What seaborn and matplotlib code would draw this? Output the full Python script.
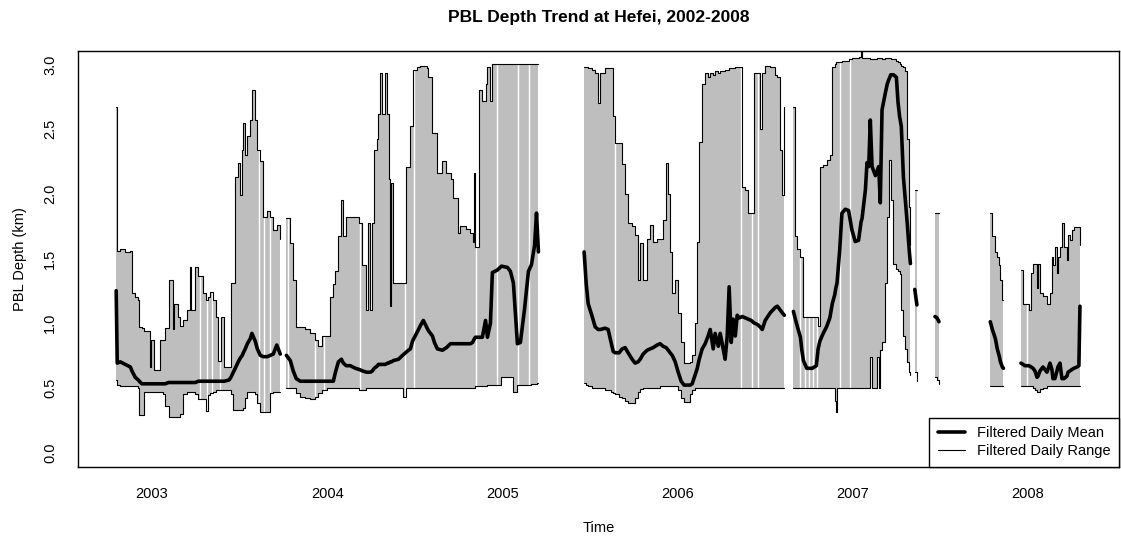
import numpy as np
import pandas as pd
import matplotlib
matplotlib.use("Agg")
import matplotlib.pyplot as plt
from matplotlib.lines import Line2D
import seaborn as sns

nan = np.nan

# ---------------- data (decimal year; NaN rows separate data segments) ----------------
t = [
    # 2002.8 - 2005.2
    2002.795, 2002.801, 2002.818, 2002.847, 2002.876, 2002.885, 2002.904, 2002.921, 2002.927, 2002.942,
    2002.952, 2002.972, 2002.986, 2002.995, 2003.009, 2003.047, 2003.064, 2003.075, 2003.094, 2003.113,
    2003.119, 2003.127, 2003.150, 2003.161, 2003.178, 2003.201, 2003.214, 2003.225, 2003.247, 2003.264,
    2003.292, 2003.310, 2003.318, 2003.332, 2003.350, 2003.367, 2003.378, 2003.395, 2003.412, 2003.440,
    2003.450, 2003.464, 2003.475, 2003.492, 2003.504, 2003.515, 2003.521, 2003.532, 2003.544, 2003.561,
    2003.570, 2003.589, 2003.601, 2003.618, 2003.635, 2003.658, 2003.675, 2003.692, 2003.712, 2003.732,
    2003.734,
    2003.767, 2003.789, 2003.806, 2003.823, 2003.846, 2003.875, 2003.903, 2003.932, 2003.949, 2003.972,
    2004.000, 2004.018, 2004.035, 2004.047, 2004.064, 2004.081, 2004.092, 2004.109, 2004.132, 2004.161,
    2004.184, 2004.201, 2004.224, 2004.235, 2004.247, 2004.258, 2004.269, 2004.287, 2004.292, 2004.304,
    2004.315, 2004.332, 2004.344, 2004.350, 2004.361, 2004.367, 2004.378, 2004.407, 2004.430, 2004.447,
    2004.464, 2004.475, 2004.487, 2004.510, 2004.532, 2004.549, 2004.567, 2004.578, 2004.601, 2004.612,
    2004.629, 2004.658, 2004.681, 2004.704, 2004.721, 2004.744, 2004.761, 2004.790, 2004.818, 2004.830,
    2004.837, 2004.846, 2004.864, 2004.886, 2004.904, 2004.915, 2004.932, 2004.943, 2004.972, 2004.995,
    2005.029, 2005.046, 2005.063, 2005.086, 2005.103, 2005.126, 2005.149, 2005.166, 2005.184, 2005.195,
    2005.206,
    2005.208,
    # 2005.5 - 2006.6
    2005.467, 2005.479, 2005.490, 2005.513, 2005.530, 2005.547, 2005.559, 2005.587, 2005.604, 2005.621,
    2005.633, 2005.644, 2005.667, 2005.684, 2005.701, 2005.718, 2005.741, 2005.758, 2005.775, 2005.787,
    2005.804, 2005.827, 2005.844, 2005.861, 2005.884, 2005.901, 2005.918, 2005.935, 2005.947, 2005.958,
    2005.970, 2005.987, 2006.004, 2006.021, 2006.038, 2006.061, 2006.073, 2006.084, 2006.101, 2006.113,
    2006.124, 2006.141, 2006.158, 2006.175, 2006.187, 2006.204, 2006.215, 2006.233, 2006.244, 2006.261,
    2006.272, 2006.284, 2006.295, 2006.307, 2006.318, 2006.330, 2006.341, 2006.353, 2006.370, 2006.387,
    2006.404, 2006.421, 2006.438, 2006.455, 2006.472, 2006.484, 2006.501, 2006.530, 2006.558, 2006.570,
    2006.587, 2006.598, 2006.610,
    2006.612,
    # 2006.66 - 2007.33
    2006.662, 2006.673, 2006.685, 2006.702, 2006.710, 2006.719, 2006.738, 2006.770, 2006.793, 2006.803,
    2006.813, 2006.832, 2006.851, 2006.870, 2006.884, 2006.898, 2006.904, 2006.911, 2006.926, 2006.939,
    2006.958, 2006.977, 2006.996, 2007.015, 2007.034, 2007.048, 2007.054, 2007.073, 2007.082, 2007.092,
    2007.101, 2007.111, 2007.130, 2007.141, 2007.149, 2007.158, 2007.168, 2007.187, 2007.198, 2007.206,
    2007.218, 2007.233, 2007.250, 2007.259, 2007.268, 2007.278, 2007.290, 2007.301, 2007.313, 2007.324,
    2007.330,
    2007.332,
    # short pieces in 2007
    2007.355, 2007.367,
    2007.369,
    2007.470, 2007.482, 2007.493,
    2007.495,
    2007.786, 2007.798, 2007.815, 2007.826, 2007.838, 2007.844, 2007.855, 2007.861,
    2007.863,
    # 2008
    2007.961, 2007.973, 2007.984, 2008.007, 2008.019, 2008.030, 2008.041, 2008.053, 2008.059, 2008.070,
    2008.087, 2008.110, 2008.127, 2008.138, 2008.144, 2008.155, 2008.167, 2008.172, 2008.184, 2008.195,
    2008.207, 2008.224, 2008.230, 2008.241, 2008.252, 2008.264, 2008.281, 2008.292, 2008.298,
]

upper = [
    2.67, 1.56, 1.57, 1.55, 1.56, 1.23, 1.20, 1.18, 0.97, 0.96,
    0.94, 0.94, 0.66, 0.87, 0.64, 0.87, 0.87, 0.96, 1.33, 1.33,
    0.95, 1.15, 1.05, 0.98, 1.02, 1.10, 1.43, 1.10, 1.43, 1.36,
    1.23, 1.18, 1.20, 1.24, 1.18, 1.05, 0.71, 1.05, 0.66, 0.66,
    1.31, 1.31, 2.13, 2.24, 1.99, 2.34, 2.55, 2.30, 2.45, 2.57,
    2.80, 2.57, 2.34, 2.25, 1.82, 1.87, 1.82, 1.72, 1.76, 1.65,
    nan,
    1.81, 1.62, 1.33, 0.97, 0.97, 0.95, 0.92, 0.87, 0.82, 0.90,
    0.90, 1.20, 1.30, 1.40, 1.67, 1.95, 1.67, 1.82, 1.82, 1.82,
    1.77, 1.45, 1.10, 1.77, 1.10, 1.77, 2.34, 2.42, 2.62, 2.93,
    2.62, 2.93, 2.62, 2.11, 1.13, 2.08, 1.31, 1.31, 1.31, 2.21,
    2.21, 2.52, 2.96, 2.98, 2.99, 2.99, 2.97, 2.90, 2.47, 2.47,
    2.16, 2.25, 2.16, 2.11, 1.97, 1.70, 1.75, 1.73, 1.70, 1.63,
    2.16, 1.59, 2.80, 2.72, 2.85, 2.98, 2.72, 3.00, 3.00, 3.00,
    3.00, 3.00, 3.00, 3.00, 3.00, 3.00, 3.00, 3.00, 3.00, 3.00,
    3.00,
    nan,
    2.98, 2.98, 2.97, 2.96, 2.93, 2.70, 2.93, 2.97, 2.97, 2.97,
    2.60, 2.39, 2.39, 2.23, 2.00, 1.77, 1.75, 1.68, 1.33, 1.62,
    1.33, 1.65, 1.76, 1.63, 1.65, 1.65, 1.80, 2.24, 2.00, 1.55,
    1.23, 1.33, 1.08, 0.85, 0.69, 0.69, 0.70, 0.75, 1.00, 1.63,
    2.40, 2.85, 2.93, 2.90, 2.93, 2.92, 2.95, 2.93, 2.95, 2.95,
    2.96, 2.96, 2.97, 2.97, 2.97, 2.98, 2.98, 2.98, 2.05, 2.03,
    1.85, 1.85, 2.93, 2.93, 2.50, 2.93, 2.99, 2.98, 2.92, 2.90,
    2.34, 1.99, 2.67,
    nan,
    2.67, 1.67, 1.57, 1.51, 1.51, 1.05, 1.05, 1.05, 1.05, 0.98,
    2.21, 2.22, 2.26, 2.30, 2.98, 3.00, 3.02, 3.02, 3.02, 3.03,
    3.03, 3.04, 3.05, 3.05, 3.06, 3.10, 3.05, 3.05, 3.05, 3.05,
    3.04, 3.04, 3.04, 3.05, 3.05, 3.05, 3.04, 3.05, 3.05, 3.05,
    3.04, 3.04, 3.03, 3.02, 3.00, 2.99, 2.98, 2.95, 2.42, 1.90,
    1.60,
    nan,
    2.03, 2.03,
    nan,
    1.85, 1.85, 1.85,
    nan,
    1.85, 1.67, 1.55, 1.51, 1.45, 1.33, 1.18, 1.18,
    nan,
    1.41, 1.15, 1.15, 1.10, 1.39, 1.46, 1.46, 1.27, 1.46, 1.23,
    1.21, 1.15, 1.23, 1.51, 1.45, 1.59, 1.39, 1.51, 1.59, 1.77,
    1.59, 1.49, 1.68, 1.64, 1.72, 1.74, 1.74, 1.74, 1.60,
]

lower = [
    0.56, 0.52, 0.51, 0.51, 0.51, 0.51, 0.51, 0.50, 0.29, 0.29,
    0.47, 0.47, 0.47, 0.47, 0.47, 0.47, 0.45, 0.36, 0.27, 0.27,
    0.27, 0.27, 0.27, 0.30, 0.45, 0.47, 0.47, 0.47, 0.45, 0.41,
    0.41, 0.32, 0.44, 0.46, 0.47, 0.48, 0.48, 0.48, 0.48, 0.48,
    0.45, 0.33, 0.33, 0.33, 0.33, 0.33, 0.34, 0.42, 0.47, 0.47,
    0.47, 0.45, 0.38, 0.31, 0.31, 0.31, 0.46, 0.47, 0.47, 0.47,
    nan,
    0.50, 0.50, 0.50, 0.46, 0.43, 0.42, 0.41, 0.43, 0.46, 0.48,
    0.50, 0.50, 0.50, 0.50, 0.50, 0.50, 0.50, 0.50, 0.50, 0.50,
    0.48, 0.48, 0.50, 0.50, 0.50, 0.50, 0.50, 0.50, 0.50, 0.50,
    0.50, 0.50, 0.50, 0.50, 0.50, 0.50, 0.50, 0.50, 0.43, 0.50,
    0.50, 0.50, 0.50, 0.50, 0.50, 0.50, 0.50, 0.50, 0.50, 0.50,
    0.50, 0.50, 0.50, 0.50, 0.50, 0.50, 0.50, 0.50, 0.50, 0.50,
    0.50, 0.51, 0.51, 0.51, 0.51, 0.52, 0.52, 0.52, 0.52, 0.585,
    0.585, 0.585, 0.47, 0.52, 0.52, 0.52, 0.52, 0.53, 0.53, 0.54,
    0.54,
    nan,
    0.535, 0.52, 0.51, 0.50, 0.50, 0.50, 0.50, 0.48, 0.48, 0.47,
    0.46, 0.45, 0.43, 0.42, 0.40, 0.38, 0.38, 0.42, 0.47, 0.49,
    0.50, 0.50, 0.50, 0.50, 0.50, 0.51, 0.51, 0.51, 0.51, 0.51,
    0.51, 0.51, 0.48, 0.42, 0.39, 0.39, 0.45, 0.48, 0.50, 0.50,
    0.50, 0.50, 0.50, 0.50, 0.50, 0.50, 0.50, 0.50, 0.50, 0.50,
    0.50, 0.50, 0.50, 0.50, 0.50, 0.50, 0.50, 0.50, 0.50, 0.50,
    0.50, 0.50, 0.50, 0.50, 0.50, 0.50, 0.50, 0.50, 0.50, 0.50,
    0.50, 0.50, 0.50,
    nan,
    0.50, 0.50, 0.50, 0.50, 0.50, 0.50, 0.50, 0.50, 0.50, 0.50,
    0.50, 0.50, 0.50, 0.50, 0.50, 0.40, 0.31, 0.50, 0.50, 0.50,
    0.50, 0.50, 0.50, 0.50, 0.50, 0.50, 0.50, 0.50, 0.50, 0.50,
    0.74, 0.50, 0.50, 0.74, 0.50, 0.79, 0.85, 1.31, 1.82, 2.26,
    1.95, 1.46, 1.42, 1.40, 1.38, 1.10, 0.90, 0.80, 0.70, 0.62,
    0.60,
    nan,
    0.62, 0.55,
    nan,
    0.58, 0.56, 0.53,
    nan,
    0.51, 0.51, 0.51, 0.51, 0.51, 0.51, 0.51, 0.51,
    nan,
    0.51, 0.51, 0.51, 0.51, 0.51, 0.50, 0.48, 0.47, 0.47, 0.49,
    0.50, 0.51, 0.51, 0.51, 0.51, 0.51, 0.51, 0.51, 0.51, 0.51,
    0.51, 0.51, 0.51, 0.51, 0.51, 0.51, 0.51, 0.51, 0.51,
]

mean = [
    1.25, 0.69, 0.70, 0.68, 0.66, 0.63, 0.58, 0.56, 0.55, 0.53,
    0.53, 0.53, 0.53, 0.53, 0.53, 0.53, 0.53, 0.53, 0.54, 0.54,
    0.54, 0.54, 0.54, 0.54, 0.54, 0.54, 0.54, 0.54, 0.54, 0.55,
    0.55, 0.55, 0.55, 0.55, 0.55, 0.55, 0.55, 0.55, 0.55, 0.56,
    0.58, 0.62, 0.65, 0.70, 0.73, 0.75, 0.77, 0.80, 0.84, 0.88,
    0.92, 0.86, 0.80, 0.75, 0.74, 0.74, 0.75, 0.76, 0.83, 0.76,
    nan,
    0.75, 0.71, 0.63, 0.57, 0.55, 0.55, 0.55, 0.55, 0.55, 0.55,
    0.55, 0.55, 0.55, 0.62, 0.70, 0.72, 0.69, 0.67, 0.67, 0.65,
    0.64, 0.63, 0.62, 0.62, 0.62, 0.63, 0.65, 0.67, 0.68, 0.68,
    0.68, 0.68, 0.69, 0.69, 0.70, 0.70, 0.71, 0.72, 0.75, 0.77,
    0.79, 0.80, 0.86, 0.92, 0.98, 1.02, 0.97, 0.94, 0.90, 0.85,
    0.80, 0.79, 0.81, 0.84, 0.84, 0.84, 0.84, 0.84, 0.84, 0.85,
    0.87, 0.89, 0.89, 0.89, 1.02, 0.89, 1.00, 1.39, 1.41, 1.44,
    1.43, 1.40, 1.31, 0.84, 0.85, 1.10, 1.40, 1.45, 1.60, 1.85,
    1.55,
    nan,
    1.55, 1.30, 1.15, 1.05, 0.97, 0.95, 0.95, 0.96, 0.95, 0.85,
    0.78, 0.77, 0.77, 0.80, 0.81, 0.77, 0.72, 0.69, 0.70, 0.72,
    0.76, 0.79, 0.80, 0.81, 0.83, 0.84, 0.82, 0.81, 0.79, 0.77,
    0.75, 0.70, 0.62, 0.55, 0.52, 0.52, 0.52, 0.53, 0.60, 0.65,
    0.72, 0.80, 0.84, 0.90, 0.95, 0.80, 0.92, 0.82, 0.92, 0.80,
    0.72, 0.90, 1.28, 0.85, 1.03, 0.90, 1.06, 1.04, 1.05, 1.04,
    1.03, 1.02, 1.00, 0.99, 0.97, 0.95, 1.02, 1.08, 1.12, 1.13,
    1.10, 1.08, 1.06,
    nan,
    1.09, 1.03, 0.97, 0.89, 0.79, 0.71, 0.65, 0.65, 0.67, 0.80,
    0.86, 0.92, 0.97, 1.04, 1.15, 1.22, 1.27, 1.31, 1.56, 1.85,
    1.88, 1.87, 1.72, 1.63, 1.64, 1.78, 1.81, 2.03, 2.24, 2.21,
    2.57, 2.21, 2.14, 2.18, 2.21, 1.93, 2.65, 2.78, 2.85, 2.88,
    2.92, 2.92, 2.90, 2.71, 2.60, 2.52, 2.13, 1.95, 1.75, 1.55,
    1.46,
    nan,
    1.26, 1.14,
    nan,
    1.05, 1.04, 1.01,
    nan,
    1.01, 0.95, 0.88, 0.80, 0.74, 0.70, 0.66, 0.65,
    nan,
    0.69, 0.68, 0.67, 0.67, 0.66, 0.65, 0.63, 0.58, 0.59, 0.63,
    0.66, 0.62, 0.69, 0.64, 0.57, 0.57, 0.63, 0.66, 0.69, 0.57,
    0.57, 0.59, 0.62, 0.63, 0.64, 0.65, 0.66, 0.67, 1.13,
]

# single missing days inside the record (white gaps in the range band)
missing_days = [
    2003.275, 2003.314, 2003.342, 2003.390, 2003.608, 2003.637, 2003.675, 2003.778,
    2003.932, 2003.979, 2004.189, 2004.446, 2004.497, 2004.850, 2004.970, 2005.091,
    2005.154, 2005.644, 2006.364, 2006.426, 2006.460, 2006.700, 2006.730, 2006.752,
    2006.775, 2006.798, 2006.926, 2006.987, 2007.998,
]

x_ticks = [2003, 2004, 2005, 2006, 2007, 2008]
y_ticks = [0.0, 0.5, 1.0, 1.5, 2.0, 2.5, 3.0]
title = "PBL Depth Trend at Hefei, 2002-2008"
x_label = "Time"
y_label = "PBL Depth (km)"
legend_labels = ["Filtered Daily Mean", "Filtered Daily Range"]

# ---------------- build frame ----------------
df = pd.DataFrame({"t": t, "upper": upper, "lower": lower, "mean": mean})
df["seg"] = df["upper"].isna().cumsum()
df = df.dropna().reset_index(drop=True)

# ---------------- plot ----------------
sns.set_style("white")
plt.rcParams["font.family"] = ["Liberation Sans", "DejaVu Sans"]
plt.rcParams["axes.linewidth"] = 1.0
plt.rcParams["text.color"] = "black"
plt.rcParams["axes.labelcolor"] = "black"
plt.rcParams["xtick.color"] = "black"
plt.rcParams["ytick.color"] = "black"

W, H = 1121, 540
fig = plt.figure(figsize=(W / 100, H / 100), dpi=100)
L, R, T, B = 78, 1119, 50.7, 466.7
ax = fig.add_axes([L / W, 1 - B / H, (R - L) / W, (B - T) / H])

GRAY = "#BEBEBE"
for _, g in df.groupby("seg"):
    ax.fill_between(g["t"].values, g["lower"].values, g["upper"].values,
                    step="post", color=GRAY, lw=0, zorder=1)

for d in missing_days:
    ax.axvline(d, color="white", lw=1.0, zorder=1.5)

for col in ["upper", "lower"]:
    sns.lineplot(data=df, x="t", y=col, units="seg", estimator=None,
                 drawstyle="steps-post", color="black", lw=0.8,
                 ax=ax, legend=False, zorder=2)

sns.lineplot(data=df, x="t", y="mean", units="seg", estimator=None,
             color="black", lw=2.6, ax=ax, legend=False, zorder=3,
             solid_capstyle="round", solid_joinstyle="round")

ax.set_xlim(2002.577, 2008.521)
ax.set_ylim(-0.111, 3.106)
ax.set_xticks(x_ticks)
ax.set_xticklabels([str(v) for v in x_ticks], fontsize=10.5, color="black")
ax.set_yticks(y_ticks)
ax.set_yticklabels([f"{v:.1f}" for v in y_ticks], fontsize=10.5,
                   rotation=90, va="center", color="black")
ax.tick_params(axis="both", direction="out", length=5, width=0.8,
               color="black", labelcolor="black")
ax.tick_params(axis="x", pad=9.5)
ax.tick_params(axis="y", pad=10)
for s in ax.spines.values():
    s.set_color("black")
    s.set_linewidth(1.0)

ax.set_xlabel(x_label, fontsize=10.5, color="black")
ax.set_ylabel(y_label, fontsize=10.5, color="black")
ax.xaxis.set_label_coords(0.5, -0.131)
ax.yaxis.set_label_coords(-0.049, 0.5)
ax.set_title(title, fontsize=12.5, fontweight="bold", y=1.068, pad=0,
             color="black")

handles = [Line2D([], [], color="black", lw=2.6), Line2D([], [], color="black", lw=0.8)]
leg = ax.legend(handles, legend_labels, loc="lower right", frameon=True,
                fancybox=False, edgecolor="black", framealpha=1,
                borderaxespad=0, handlelength=1.85, handletextpad=0.82,
                labelspacing=0.24, borderpad=0.6, fontsize=10.5)
leg.get_frame().set_linewidth(1.0)
for txt in leg.get_texts():
    txt.set_color("black")
leg.set_zorder(10)

fig.savefig("out.png", dpi=100)
